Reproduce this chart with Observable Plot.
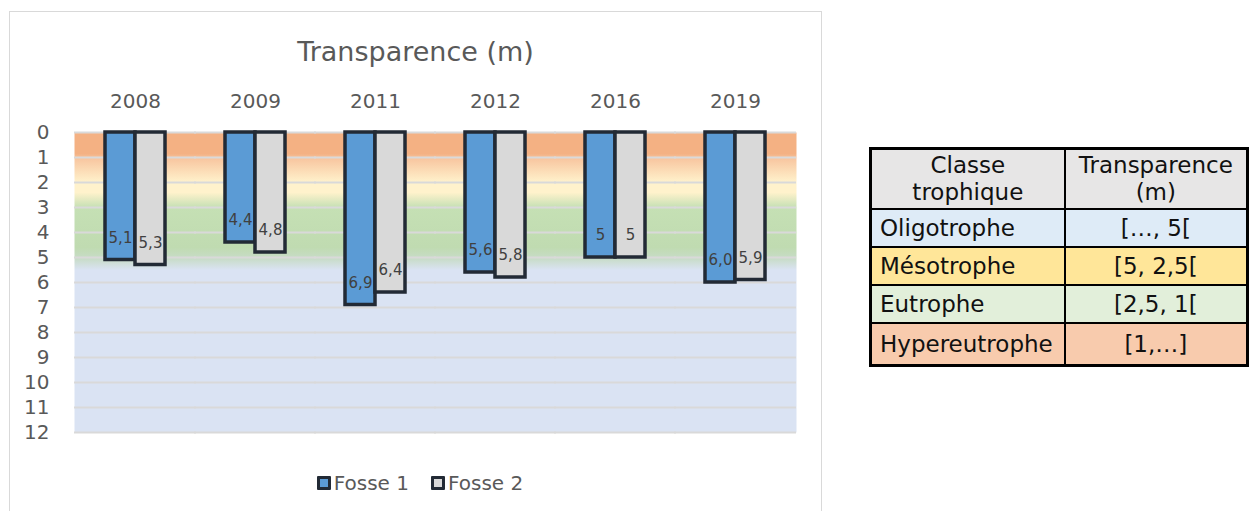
<!DOCTYPE html>
<html>
<head>
<meta charset="utf-8">
<script src="https://cdn.jsdelivr.net/npm/d3@7"></script>
<script src="https://cdn.jsdelivr.net/npm/@observablehq/plot@0.6"></script>
<style>
  html, body { margin: 0; padding: 0; background: #fff; }
  body { width: 1249px; height: 511px; position: relative; overflow: hidden; font-family: "DejaVu Sans", sans-serif; color: #595959; }
  #frame { position: absolute; left: 9px; top: 11px; width: 813px; height: 520px; border: 1px solid #d9d9d9; box-sizing: border-box; }
  #title { position: absolute; left: 9px; width: 813px; top: 32px; text-align: center; font-size: 27px; line-height: 40px; }
  #chart { position: absolute; left: 0; top: 0; }
  #legend { position: absolute; left: 0; width: 840px; top: 470px; text-align: center; font-size: 20px; line-height: 26px; }
  #legend span.item { display: inline-block; margin: 0 11px; }
  #legend span.sw { display: inline-block; width: 8px; height: 8px; border: 3px solid #222a35; border-radius: 1px; margin-right: 3px; vertical-align: 0px; }
  #tbl { position: absolute; left: 869px; top: 147px; border-collapse: collapse; border: 3px solid #000; font-size: 23px; color: #111; }
  #tbl td { border: 2px solid #000; padding: 0 8px; line-height: 26px; }
  #tbl td.c1 { width: 183px; }
  #tbl td.c2 { width: 190px; text-align: center; }
  #tbl tr.h td { text-align: center; height: 58px; line-height: 27px; }
  #tbl tr.r td { height: 36px; }
  #tbl tr.last td { height: 40px; }
</style>
</head>
<body>
<div id="frame"></div>
<div id="title">Transparence (m)</div>
<div id="chart"></div>
<div id="legend"></div>
<table id="tbl"></table>
<script>
// ---- data ----
const years = ["2008", "2009", "2011", "2012", "2016", "2019"];
const series = ["Fosse 1", "Fosse 2"];
const fosse1 = [5.1, 4.4, 6.9, 5.6, 5.0, 6.0];
const fosse2 = [5.3, 4.8, 6.4, 5.8, 5.0, 5.9];
const labels1 = ["5,1", "4,4", "6,9", "5,6", "5", "6,0"];
const labels2 = ["5,3", "4,8", "6,4", "5,8", "5", "5,9"];
const yTicks = [0, 1, 2, 3, 4, 5, 6, 7, 8, 9, 10, 11, 12];
const seriesColors = ["#5b9bd5", "#d9d9d9"];

const tableHeader = ["Classe<br>trophique", "Transparence<br>(m)"];
const tableClasses = ["Oligotrophe", "Mésotrophe", "Eutrophe", "Hypereutrophe"];
const tableRanges = ["[…, 5[", "[5, 2,5[", "[2,5, 1[", "[1,…]"];
const tableColors = ["#deebf7", "#ffe699", "#e2efda", "#f8cbad"];

// background zones (depth in m -> color), used for the gradient
const zoneDepths = [0, 0.85, 1.05, 2.0, 2.4, 3.0, 4.6, 5.05, 5.5, 12];
const zoneColors = ["#f4b183", "#f4b183", "#f8c6a0", "#fff2cc", "#fff2cc", "#c5e0b4", "#c0dbb1", "#c8dcc8", "#dae3f3", "#dae3f3"];

const rows = [];
years.forEach((y, i) => {
  rows.push({year: y, series: series[0], value: fosse1[i], label: labels1[i]});
  rows.push({year: y, series: series[1], value: fosse2[i], label: labels2[i]});
});

const chart = Plot.plot({
  width: 823,
  height: 450,
  marginTop: 132,
  marginBottom: 18,
  marginLeft: 75,
  marginRight: 28,
  style: {fontFamily: "DejaVu Sans, sans-serif", fontSize: "20px", color: "#595959", background: "transparent", overflow: "visible"},
  facet: {data: rows, x: "year"},
  fx: {domain: years, padding: 0, axis: "top", label: null, tickSize: 0, tickPadding: 25, fontSize: 21},
  x: {domain: series, axis: null, paddingInner: 0, paddingOuter: 1},
  y: {domain: [0, 12], reverse: true, ticks: yTicks, tickSize: 0, tickPadding: 26, label: null, tickFormat: d => String(d)},
  color: {domain: series, range: seriesColors},
  marks: [
    Plot.frame({fill: "url(#zoneGrad)", stroke: null, insetLeft: -1, insetRight: -1}),
    Plot.ruleY(yTicks, {stroke: "#d9d9d9", strokeWidth: 2, strokeOpacity: 1, insetLeft: -1, insetRight: -1}),
    Plot.barY(rows, {x: "series", y1: 0, y2: "value", fill: "series", stroke: "#222a35", strokeWidth: 3.5}),
    Plot.text(rows, {x: "series", y: "value", text: "label", dy: -22, fontSize: 15, fill: "#404040"})
  ]
});

// gradient definition built from the zone arrays
const stops = zoneDepths.map((d, i) => `<stop offset="${d / 12}" stop-color="${zoneColors[i]}"/>`).join("");
chart.insertAdjacentHTML("afterbegin", `<defs><linearGradient id="zoneGrad" x1="0" y1="0" x2="0" y2="1">${stops}</linearGradient></defs>`);
document.getElementById("chart").appendChild(chart);

// legend
document.getElementById("legend").innerHTML = series.map((s, i) =>
  `<span class="item"><span class="sw" style="background:${seriesColors[i]}"></span>${s}</span>`).join("");

// table
const tbl = document.getElementById("tbl");
let html = `<tr class="h" style="background:#e7e6e6"><td class="c1">${tableHeader[0]}</td><td class="c2">${tableHeader[1]}</td></tr>`;
tableClasses.forEach((c, i) => {
  const cls = i === tableClasses.length - 1 ? "r last" : "r";
  html += `<tr class="${cls}" style="background:${tableColors[i]}"><td class="c1">${c}</td><td class="c2">${tableRanges[i]}</td></tr>`;
});
tbl.innerHTML = html;
</script>
</body>
</html>
